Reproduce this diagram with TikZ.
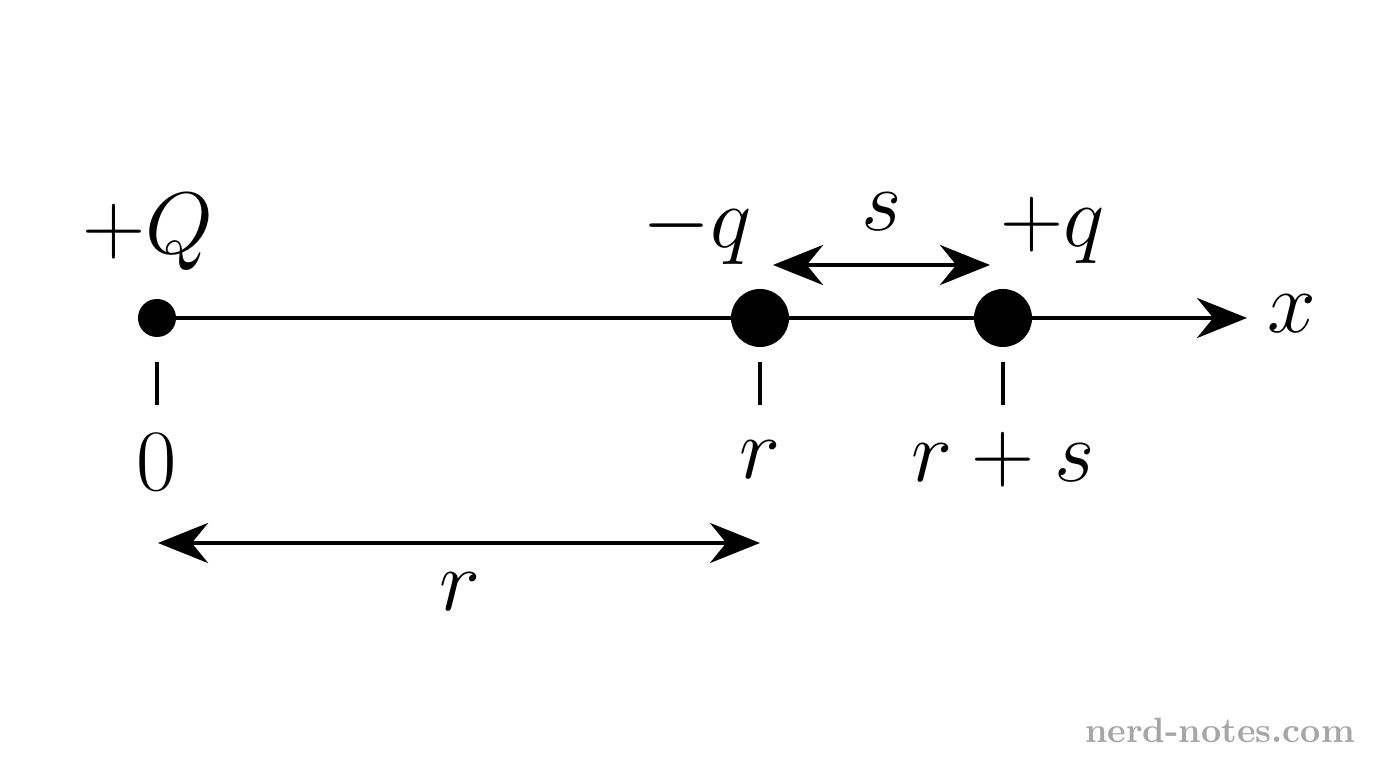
\documentclass[tikz,border=0pt]{standalone}
\usetikzlibrary{arrows.meta}
\begin{document}
\begin{tikzpicture}[x=0.01cm,y=-0.01cm,
  ln/.style={line width=1.2pt},
  arr/.style={ln,{Stealth[length=5mm,width=4mm]}-{Stealth[length=5mm,width=4mm]}},
  lbl/.style={font=\fontsize{27}{32}\selectfont},
  dot/.style={circle,fill=black,inner sep=0pt}]
\useasboundingbox (0,0) rectangle (1376,768);
\coordinate (o) at (157,318);
\coordinate (xe) at (1247,318);
\draw[ln,-{Stealth[length=5mm,width=4mm]}] (o) -- (xe);
\node[dot,minimum size=0.38cm] (p0) at (157,318) {};
\node[dot,minimum size=0.58cm] (p1) at (760,318) {};
\node[dot,minimum size=0.58cm] (p2) at (1003,318) {};
\coordinate (t0a) at (157,362); \coordinate (t0b) at (157,405);
\coordinate (t1a) at (760,362); \coordinate (t1b) at (760,405);
\coordinate (t2a) at (1003,362); \coordinate (t2b) at (1003,405);
\draw[ln] (t0a)--(t0b) (t1a)--(t1b) (t2a)--(t2b);
\node[lbl] (lQ) at (148,232) {$+Q$};
\node[lbl] (lmq) at (697,230) {$-q$};
\node[lbl] (lpq) at (1053,230) {$+q$};
\node[lbl] (ls) at (882,212) {$s$};
\node[lbl] (lx) at (1292,314) {$x$};
\node[lbl] (l0) at (157,462) {$0$};
\node[lbl] (lr) at (760,460) {$r$};
\node[lbl] (lrs) at (1003,460) {$r+s$};
\node[lbl] (lr2) at (460,592) {$r$};
\coordinate (sa) at (773,265); \coordinate (sb) at (990,265);
\draw[arr] (sa) -- (sb);
\coordinate (ra) at (158,543); \coordinate (rb) at (760,543);
\draw[arr] (ra) -- (rb);
\node[text=black!35,font=\fontsize{10}{12}\selectfont\bfseries] (wm) at (1220,730) {nerd-notes.com};
\end{tikzpicture}
\end{document}
